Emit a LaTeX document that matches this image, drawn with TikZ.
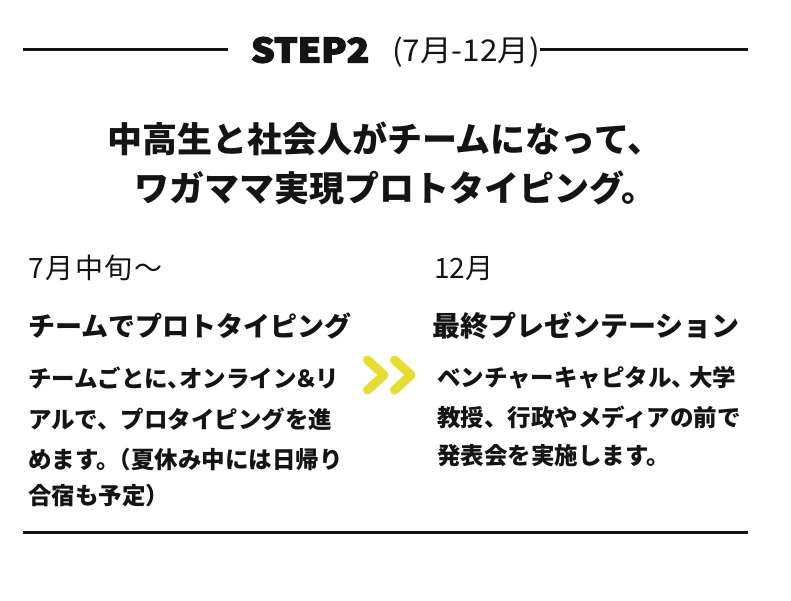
\documentclass[tikz,border=0pt]{standalone}
\usepackage{fontspec}
\setmainfont{Noto Sans CJK JP}
\newfontfamily\heavyfont{Noto Sans CJK JP}[FakeBold=4]
\definecolor{ink}{HTML}{141414}
\definecolor{chevy}{RGB}{230,220,50}
\tikzset{
  txt/.style={anchor=west, inner sep=0pt, outer sep=0pt, text=ink},
  rulestyle/.style={line width=3pt, draw=ink},
  chev/.style={line width=9pt, line cap=round, line join=round, draw=chevy},
  titlefont/.style={font=\bfseries\fontsize{35}{40}\selectfont},
  datefont/.style={font=\fontsize{28}{32}\selectfont},
  headfont/.style={font=\bfseries\fontsize{27}{31}\selectfont},
  bodyfont/.style={font=\bfseries\fontsize{23.5}{28}\selectfont}
}
\begin{document}
\begin{tikzpicture}[x=1pt,y=-1pt]
\useasboundingbox[fill=white] (0,0) rectangle (791,600);
% header
\node[txt, font=\heavyfont\bfseries\fontsize{33.5}{38}\selectfont] (step) at (251,50) {\scalebox{1.11}[1]{STEP2}};
\node[txt, font=\fontsize{30}{34}\selectfont] (period) at (392,52) {\scalebox{1.05}[1]{(7月-12月)}};
\coordinate (l1a) at (23,49); \coordinate (l1b) at (228,49);
\coordinate (l2a) at (540,49); \coordinate (l2b) at (748,49);
\coordinate (l3a) at (23,532); \coordinate (l3b) at (748,532);
\draw[rulestyle] (l1a) -- (l1b);
\draw[rulestyle] (l2a) -- (l2b);
\draw[rulestyle] (l3a) -- (l3b);
% title
\node[txt, titlefont] (t1) at (107,139) {中高生と社会人がチームになって、};
\node[txt, titlefont] (t2) at (134,188) {ワガママ実現プロトタイピング。};
% left column
\node[txt, datefont] (d1) at (28,268) {7\kern2pt 月\kern1.5pt 中\kern1.5pt 旬\kern1.5pt 〜};
\node[txt, headfont] (h1) at (28,326) {チームでプロトタイピング};
\node[txt, bodyfont] (b11) at (28,378) {チームごとに、\kern-0.5em オンライン\kern-0.1em ＆\kern-0.1em リ};
\node[txt, bodyfont] (b12) at (28,419) {アルで、プロタイピングを進};
\node[txt, bodyfont] (b13) at (28,460) {めます。\kern-0.5em （夏休み中には日帰り};
\node[txt, bodyfont] (b14) at (28,496) {合宿も予定）};
% right column
\node[txt, datefont] (d2) at (434,269) {12月};
\node[txt, font=\bfseries\fontsize{28}{32}\selectfont] (h2) at (432,326) {最終プレゼンテーション};
\node[txt, bodyfont] (b21) at (437,378) {ベンチャーキャピタル、\kern-0.25em 大学};
\node[txt, bodyfont] (b22) at (437,417) {教授、行政やメディアの前で};
\node[txt, bodyfont] (b23) at (437,456) {発表会を実施します。};
% chevrons
\coordinate (c1a) at (367.5,360); \coordinate (c1t) at (384,375); \coordinate (c1b) at (367.5,390);
\coordinate (c2a) at (394.5,360); \coordinate (c2t) at (411,375); \coordinate (c2b) at (394.5,390);
\draw[chev] (c1a) -- (c1t) -- (c1b);
\draw[chev] (c2a) -- (c2t) -- (c2b);
\end{tikzpicture}
\end{document}
